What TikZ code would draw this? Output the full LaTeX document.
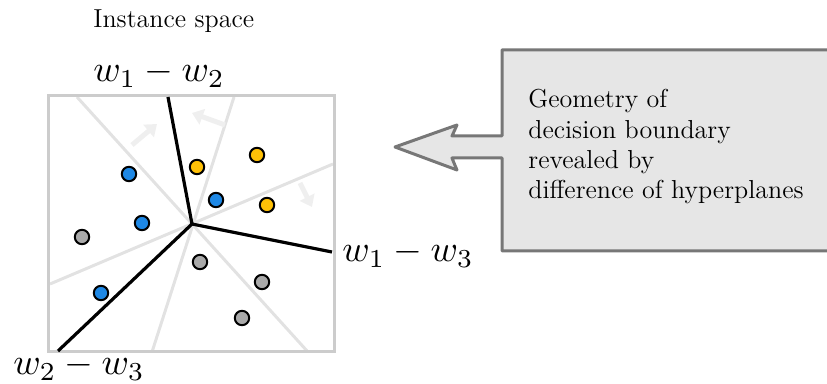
\documentclass[tikz,border=0pt]{standalone}
\usepackage{fontspec}
\usepackage{graphicx}
\usetikzlibrary{arrows.meta}
\definecolor{ptblue}{HTML}{1E88E5}
\definecolor{ptyellow}{HTML}{FFC107}
\definecolor{ptgray}{HTML}{AAAAAA}
\definecolor{framegray}{HTML}{CCCCCC}
\definecolor{planegray}{HTML}{E2E2E2}
\definecolor{faint}{HTML}{EFEFEF}
\definecolor{calloutfill}{HTML}{E6E6E6}
\definecolor{calloutdraw}{HTML}{777777}
\newcommand{\biglab}[1]{\scalebox{1.85}{$#1$}}
\begin{document}
\begin{tikzpicture}[x=0.5pt,y=-0.5pt,
  pt/.style={circle,draw=black,line width=1pt,inner sep=0pt,minimum size=7.2pt},
  bluept/.style={pt,fill=ptblue},
  yellowpt/.style={pt,fill=ptyellow},
  graypt/.style={pt,fill=ptgray},
  plane/.style={draw=planegray,line width=1.5pt},
  bound/.style={draw=black,line width=1.6pt},
  normalarrow/.style={draw=faint,line width=2.5pt,-{Triangle[length=5.5pt,width=8pt]}},
  mathlabel/.style={inner sep=0pt},
  txt/.style={inner sep=0pt,font=\fontsize{13}{15.2}\selectfont}]
\useasboundingbox (0,0) rectangle (827,384);

% centre
\coordinate (c) at (192,224);
% planes (gray lines)
\coordinate (p1a) at (77,97);  \coordinate (p1b) at (308,352);
\coordinate (p2a) at (234,97); \coordinate (p2b) at (152,352);
\coordinate (p3a) at (333,164); \coordinate (p3b) at (50,284);
\draw[plane] (p1a) -- (p1b);
\draw[plane] (p2a) -- (p2b);
\draw[plane] (p3a) -- (p3b);

% faint normal arrows
\coordinate (n1a) at (132,145); \coordinate (n1b) at (157,124);
\coordinate (n2a) at (225,125); \coordinate (n2b) at (192,113);
\coordinate (n3a) at (300,183); \coordinate (n3b) at (312,207);
\draw[normalarrow] (n1a) -- (n1b);
\draw[normalarrow] (n2a) -- (n2b);
\draw[normalarrow] (n3a) -- (n3b);

% frame
\draw[draw=framegray,line width=1.5pt] (48,96) rectangle (334,352);

% decision boundary
\coordinate (b12) at (168,97);
\coordinate (b13) at (332,252);
\coordinate (b23) at (58,351);
\draw[bound,line join=round] (b12) -- (c) -- (b13);
\draw[bound] (c) -- (b23);

% points
\node[bluept] (u1) at (129,174) {};
\node[bluept] (u2) at (142,223) {};
\node[bluept] (u3) at (216,200) {};
\node[bluept] (u4) at (101,293) {};
\node[yellowpt] (y1) at (197,167) {};
\node[yellowpt] (y2) at (257,155) {};
\node[yellowpt] (y3) at (267,205) {};
\node[graypt] (g1) at (82,237) {};
\node[graypt] (g2) at (200,262) {};
\node[graypt] (g3) at (262,282) {};
\node[graypt] (g4) at (242,318) {};

% labels
\node[txt,anchor=base west] (title) at (93,28) {Instance space};
\node[mathlabel,anchor=base west] (l12) at (93,82) {\biglab{w_1 - w_2}};
\node[mathlabel,anchor=base west] (l13) at (342,262) {\biglab{w_1 - w_3}};
\node[mathlabel,anchor=base west] (l23) at (13,375) {\biglab{w_2 - w_3}};

% callout
\draw[fill=calloutfill,draw=calloutdraw,line width=1.5pt,line join=round]
  (502,50) -- (840,50) -- (840,251) -- (502,251) -- (502,158) -- (452,158)
  .. controls (454,163) .. (457,170) -- (395,147) -- (457,125)
  .. controls (454,131) .. (452,136) -- (502,136) -- cycle;
\node[txt,anchor=north west,align=left] (msg) at (528,89)
  {Geometry of\\decision boundary\\revealed by\\difference of hyperplanes};
\end{tikzpicture}
\end{document}
